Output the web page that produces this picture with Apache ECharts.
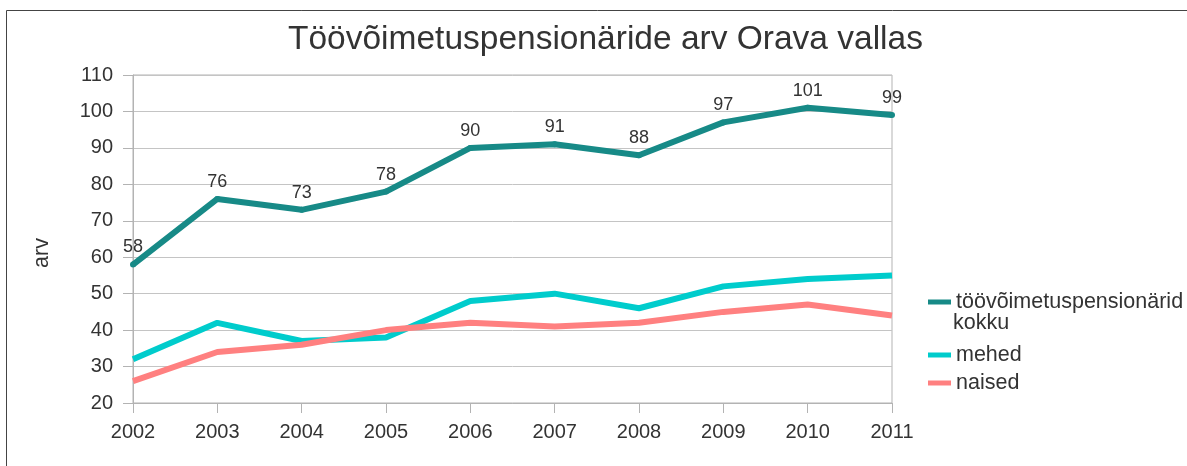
<!DOCTYPE html>
<html>
<head>
<meta charset="utf-8">
<script src="https://cdn.jsdelivr.net/npm/echarts@6/dist/echarts.min.js"></script>
<style>
html,body{margin:0;padding:0;background:#fff;}
#chart{width:1187px;height:466px;}
</style>
</head>
<body>
<div id="chart"></div>
<script>
var titleText = 'Töövõimetuspensionäride arv Orava vallas';
var years = ['2002','2003','2004','2005','2006','2007','2008','2009','2010','2011'];
var kokku = [58, 76, 73, 78, 90, 91, 88, 97, 101, 99];
var mehed = [32, 42, 37, 38, 48, 50, 46, 52, 54, 55];
var naised = [26, 34, 36, 40, 42, 41, 42, 45, 47, 44];
var nameKokku = 'töövõimetuspensionärid kokku';
var nameMehed = 'mehed';
var nameNaised = 'naised';
var yAxisName = 'arv';

var font = 'Liberation Sans, Arial, sans-serif';
var chart = echarts.init(document.getElementById('chart'), null, {renderer: 'canvas'});
chart.setOption({
  animation: false,
  backgroundColor: '#ffffff',
  textStyle: {fontFamily: font},
  title: {
    text: titleText,
    left: 283,
    top: 18,
    textStyle: {fontFamily: font, fontSize: 33.5, fontWeight: 'normal', color: '#333333'}
  },
  graphic: [
    {type: 'rect', shape: {x: 6.5, y: 10.5, width: 1400, height: 700}, style: {fill: 'none', stroke: '#444444', lineWidth: 1}, silent: true},
    {type: 'text', left: 953, top: 312, style: {text: 'kokku', font: '21.5px Liberation Sans, Arial, sans-serif', fill: '#333333'}},
    {type: 'text', x: 42, y: 253, rotation: Math.PI / 2, style: {text: yAxisName, font: '21.5px Liberation Sans, Arial, sans-serif', fill: '#333333', align: 'center', verticalAlign: 'middle'}}
  ],
  legend: [
    {
      data: [nameKokku],
      orient: 'vertical',
      left: 923,
      top: 286,
      itemWidth: 23,
      itemHeight: 5,
      icon: 'rect',
      itemGap: 6,
      formatter: function (n) { return n === nameKokku ? 'töövõimetuspensionärid' : n; },
      textStyle: {fontFamily: font, fontSize: 21.5, color: '#333333'}
    },
    {
      data: [nameMehed, nameNaised],
      orient: 'vertical',
      left: 923,
      top: 339,
      itemWidth: 23,
      itemHeight: 5,
      icon: 'rect',
      itemGap: 6,
      textStyle: {fontFamily: font, fontSize: 21.5, color: '#333333'}
    }
  ],
  grid: {
    left: 133, right: 295, top: 75, bottom: 63,
    show: true, borderColor: '#b3b3b3', borderWidth: 1, backgroundColor: 'transparent'
  },
  xAxis: {
    type: 'category',
    data: years,
    boundaryGap: false,
    axisLine: {lineStyle: {color: '#b3b3b3', width: 1}},
    axisTick: {show: true, length: 10, alignWithLabel: true, lineStyle: {color: '#b3b3b3'}},
    axisLabel: {fontFamily: font, fontSize: 20, color: '#333333', margin: 19},
    splitLine: {show: false}
  },
  yAxis: {
    type: 'value',
    min: 20, max: 110, interval: 10,
    axisLine: {show: true, lineStyle: {color: '#b3b3b3', width: 1}},
    axisTick: {show: true, length: 10, lineStyle: {color: '#b3b3b3'}},
    axisLabel: {fontFamily: font, fontSize: 20, color: '#333333', margin: 20},
    splitLine: {show: true, lineStyle: {color: '#c4c4c4', width: 1}}
  },
  series: [
    {
      name: nameKokku, type: 'line', data: kokku,
      symbol: 'circle', symbolSize: 6, showSymbol: true,
      lineStyle: {width: 6, color: '#178a87'}, itemStyle: {color: '#178a87'},
      label: {show: true, position: 'top', distance: 5, fontFamily: font, fontSize: 18, color: '#333333'},
      z: 3
    },
    {
      name: nameMehed, type: 'line', data: mehed,
      symbol: 'none', lineStyle: {width: 6, color: '#00cccc'}, itemStyle: {color: '#00cccc'},
      z: 2
    },
    {
      name: nameNaised, type: 'line', data: naised,
      symbol: 'none', lineStyle: {width: 6, color: '#ff8080'}, itemStyle: {color: '#ff8080'},
      z: 2
    }
  ]
});
</script>
</body>
</html>
